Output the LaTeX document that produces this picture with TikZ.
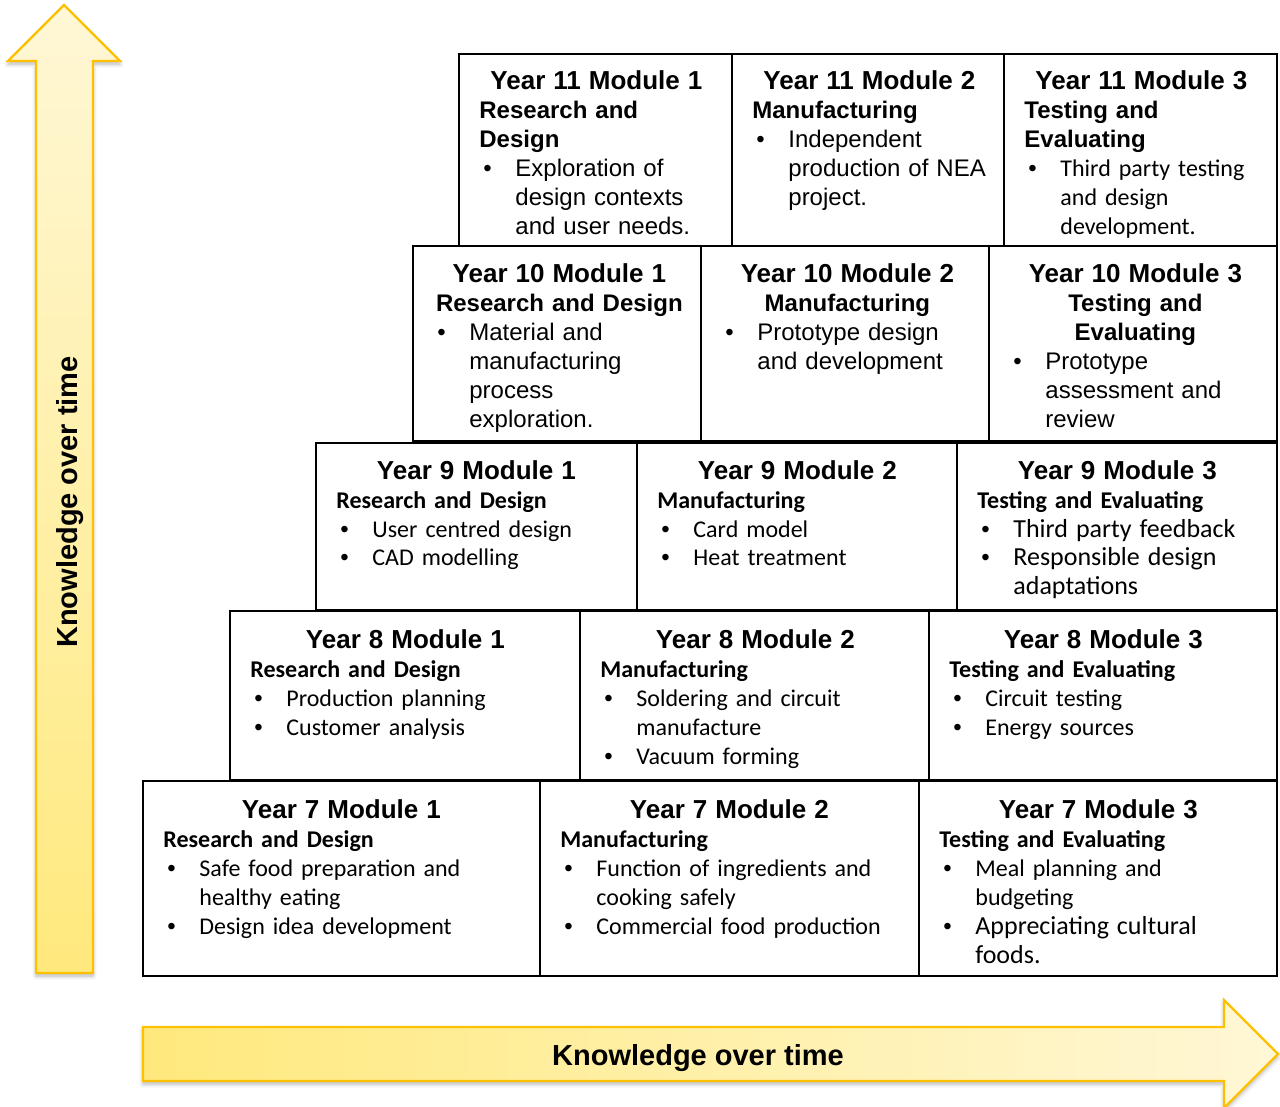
\documentclass[tikz,border=0pt]{standalone}
\usepackage{fontspec}
\setmainfont{Liberation Sans}
\newfontfamily\calfont{Carlito}
\usetikzlibrary{shadows.blur}
\definecolor{arrowgold}{RGB}{255,192,0}
\definecolor{arrowpale}{RGB}{255,247,214}
\definecolor{arrowyellow}{RGB}{255,233,125}
\tikzset{cell/.style={draw=black, line width=1.1pt, anchor=north west, inner sep=0pt, outer sep=0pt},txt/.style={anchor=base west, inner sep=0pt, text width=#1, font=\fontsize{12}{14.5}\selectfont}}
\tikzset{bigarrow/.style={draw=arrowgold, line width=1.2pt, line join=miter, blur shadow={shadow xshift=0pt, shadow yshift=-1.5pt, shadow blur steps=6, shadow opacity=30}},arrowlabel/.style={font=\fontsize{14.5}{17}\selectfont\bfseries, inner sep=0pt}}
\newcommand{\modtitle}[1]{\centering{\fontsize{13}{14.5}\selectfont\bfseries #1}\par}
\newcommand{\modhead}[1]{\raggedright{\bfseries #1}\par}
\newcommand{\modmid}[1]{\centering{\bfseries #1}\par}
\newcommand{\itm}{\par\raggedright\leftskip=18pt\noindent\llap{\makebox[16pt][l]{\normalfont\fontsize{12}{14.5}\selectfont\textbullet}}}

\begin{document}
\begin{tikzpicture}[x=0.5pt, y=-0.5pt]
        \useasboundingbox (0,0) rectangle (1280,1107);
        % Arrows
        \path[bigarrow, top color=arrowpale, bottom color=arrowyellow]
            (36,973) -- (36,61) -- (8,61) -- (64,5) -- (120,61) -- (93,61) -- (93,973) -- cycle;
        \path[bigarrow, left color=arrowyellow, right color=arrowpale]
            (143,1027) -- (1224,1027) -- (1224,1000) -- (1278,1054) -- (1224,1108) -- (1224,1081) -- (143,1081) -- cycle;
        \node[arrowlabel, rotate=90, anchor=base] (uplabel) at (77,502) {Knowledge over time};
        \node[arrowlabel, anchor=base] (rightlabel) at (698,1065) {Knowledge over time};
        % Cells
        \foreach \nm/\xa/\ya/\xb/\yb in {
            y11a/459/54/732/246, y11b/732/54/1004/246, y11c/1004/54/1277/246,
            y10a/413/246/701/441, y10b/701/246/989/441, y10c/989/246/1277/441,
            y9a/316/443/637/610, y9b/637/443/957/610, y9c/957/443/1277/610,
            y8a/230/611/580/780, y8b/580/611/929/780, y8c/929/611/1277/780,
            y7a/143/781/540/976, y7b/540/781/919/976, y7c/919/781/1277/976} {
            \node[cell, minimum width={(\xb-\xa)*0.5pt}, minimum height={(\yb-\ya)*0.5pt}] (\nm) at (\xa,\ya) {};
        }
        % Year 11
        \node[txt=117pt] (y11at) at ([shift={(20,36)}]y11a.north west) {\modtitle{Year 11 Module 1}\modhead{Research and\\Design}\itm Exploration of\\design contexts\\and user needs.\par};
        \node[txt=117pt] (y11bt) at ([shift={(20,36)}]y11b.north west) {\modtitle{Year 11 Module 2}\modhead{Manufacturing}\itm Independent\\production of NEA\\project.\par};
        \node[txt=117pt] (y11ct) at ([shift={(20,36)}]y11c.north west) {\modtitle{Year 11 Module 3}\modhead{Testing and\\Evaluating}\itm\calfont Third party testing\\and design\\development.\par};
        % Year 10
        \node[txt=126pt] (y10at) at ([shift={(20,37)}]y10a.north west) {\modtitle{Year 10 Module 1}\modmid{Research and Design}\itm Material and\\manufacturing\\process\\exploration.\par};
        \node[txt=126pt] (y10bt) at ([shift={(20,37)}]y10b.north west) {\modtitle{Year 10 Module 2}\modmid{Manufacturing}\itm Prototype design\\and development\par};
        \node[txt=126pt] (y10ct) at ([shift={(20,37)}]y10c.north west) {\modtitle{Year 10 Module 3}\modmid{Testing and\\Evaluating}\itm Prototype\\assessment and\\review\par};
        % Year 9
        \node[txt=140pt] (y9at) at ([shift={(20,36)}]y9a.north west) {\modtitle{Year 9 Module 1}\calfont\modhead{Research and Design}\itm User centred design\itm CAD modelling\par};
        \node[txt=140pt] (y9bt) at ([shift={(20,36)}]y9b.north west) {\modtitle{Year 9 Module 2}\calfont\modhead{Manufacturing}\itm Card model\itm Heat treatment\par};
        \node[txt=140pt] (y9ct) at ([shift={(20,36)}]y9c.north west) {\modtitle{Year 9 Module 3}\calfont\modhead{Testing and Evaluating}\fontsize{13}{14.5}\selectfont\itm Third party feedback\itm Responsible design\\adaptations\par};
        % Year 8
        \node[txt=155pt] (y8at) at ([shift={(20,37)}]y8a.north west) {\modtitle{Year 8 Module 1}\calfont\modhead{Research and Design}\itm Production planning\itm Customer analysis\par};
        \node[txt=155pt] (y8bt) at ([shift={(20,37)}]y8b.north west) {\modtitle{Year 8 Module 2}\calfont\modhead{Manufacturing}\itm Soldering and circuit\\manufacture\itm Vacuum forming\par};
        \node[txt=154pt] (y8ct) at ([shift={(20,37)}]y8c.north west) {\modtitle{Year 8 Module 3}\calfont\modhead{Testing and Evaluating}\itm Circuit testing\itm Energy sources\par};
        % Year 7
        \node[txt=178pt] (y7at) at ([shift={(20,37)}]y7a.north west) {\modtitle{Year 7 Module 1}\calfont\modhead{Research and Design}\itm Safe food preparation and\\healthy eating\itm Design idea development\par};
        \node[txt=169pt] (y7bt) at ([shift={(20,37)}]y7b.north west) {\modtitle{Year 7 Module 2}\calfont\modhead{Manufacturing}\itm Function of ingredients and\\cooking safely\itm Commercial food production\par};
        \node[txt=159pt] (y7ct) at ([shift={(20,37)}]y7c.north west) {\modtitle{Year 7 Module 3}\calfont\modhead{Testing and Evaluating}\itm Meal planning and\\budgeting\fontsize{13}{14.5}\selectfont\itm Appreciating cultural\\foods.\par};
\end{tikzpicture}
\end{document}
